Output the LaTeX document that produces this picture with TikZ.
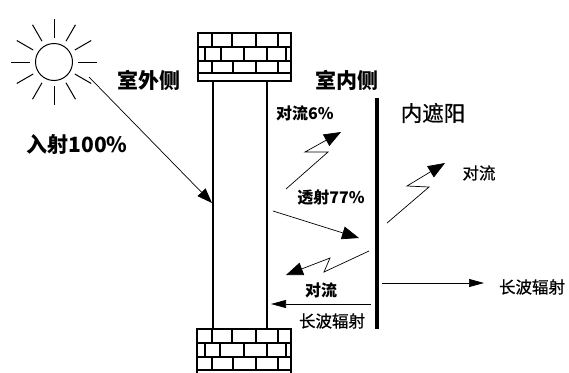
\documentclass[tikz,border=0pt]{standalone}
\usepackage{fontspec}
\newfontfamily\cjk{Noto Sans CJK SC}
\newfontfamily\cjkmed[FakeBold=0.8]{Noto Sans CJK SC}
\usetikzlibrary{arrows.meta,calc}
\begin{document}
\begin{tikzpicture}[x=1pt,y=-1pt,
  big/.style={font=\cjk\bfseries\fontsize{21}{21}\selectfont, inner sep=0pt},
  bigthin/.style={font=\cjkmed\fontsize{21.5}{21.5}\selectfont, inner sep=0pt},
  small/.style={font=\cjk\bfseries\fontsize{16}{16}\selectfont, inner sep=0pt},
  smallthin/.style={font=\cjkmed\fontsize{16.5}{16.5}\selectfont, inner sep=0pt},
  brick/.style={line width=1.2pt},
  wall/.style={line width=1.3pt},
  heat/.style={line width=0.7pt, -{Triangle[length=17pt,width=13pt]}},
  ray/.style={line width=0.7pt, -{Triangle[length=15pt,width=8pt]}},
  sunray/.style={line width=1pt}]
\useasboundingbox (0,0) rectangle (569,372);
\clip (0,0) rectangle (569,372);

% sun
\node[draw, circle, line width=1pt, minimum size=37pt, inner sep=0pt] (sun) at (54,62) {};
\foreach \a in {0,30,...,330}
  \draw[sunray] ($(sun.center)+(\a:24)$) -- ($(sun.center)+(\a:43)$);

% upper brick block
\draw[brick] (198,33) rectangle (291,81);
\foreach \y in {47,61,73} \draw[brick] (198,\y) -- (291,\y);
\foreach \x in {212,232,256,278} \draw[brick] (\x,33) -- (\x,47);
\foreach \x in {205,221,244,267,286} \draw[brick] (\x,47) -- (\x,61);
\foreach \x in {212,233,256,278} \draw[brick] (\x,61) -- (\x,73);

% lower brick block
\draw[brick] (197,329) rectangle (291,385);
\foreach \y in {343,357,370} \draw[brick] (197,\y) -- (291,\y);
\foreach \x in {212,232,256,278} \draw[brick] (\x,329) -- (\x,343);
\foreach \x in {205,220,244,267,286} \draw[brick] (\x,343) -- (\x,357);
\foreach \x in {212,233,256,278} \draw[brick] (\x,357) -- (\x,370);

% wall faces
\coordinate (wo1) at (213,81);  \coordinate (wo2) at (213,329);
\coordinate (wi1) at (267,81);  \coordinate (wi2) at (267,329);
\draw[wall] (wo1) -- (wo2);
\draw[wall] (wi1) -- (wi2);

% interior shade
\coordinate (sh1) at (377,98); \coordinate (sh2) at (377,329);
\draw[line width=4pt] (sh1) -- (sh2);

% labels
\node[big] (out) at (149,80) {室外侧};
\node[big] (in) at (347,80) {室内侧};
\node[big] (inc) at (77,145) {入射100\%};
\node[bigthin] (shade) at (433,113) {内遮阳};
\node[small] (conv6) at (305,113) {对流6\%};
\node[small] (trans) at (331,198) {透射77\%};
\node[smallthin] (convR) at (479,173) {对流};
\node[smallthin] (lwR) at (532,287) {长波辐射};
\node[small] (convL) at (321,290) {对流};
\node[smallthin] (lwL) at (332,321) {长波辐射};

% incident solar radiation
\coordinate (i0) at (89,77); \coordinate (i1) at (212,203);
\draw[line width=0.7pt, -{Triangle[length=15pt,width=11pt]}] (i0) -- (i1);

% convection 6% off the wall
\coordinate (a0) at (286,189); \coordinate (a1) at (328,152);
\coordinate (a2) at (305,152); \coordinate (a3) at (341,132);
\draw[heat] (a0) -- (a1) -- (a2) -- (a3);

% transmitted 77%
\coordinate (t0) at (273,211); \coordinate (t1) at (359,238);
\draw[heat] (t0) -- (t1);

% convection off the room side of the shade
\coordinate (b0) at (387,223); \coordinate (b1) at (429,187);
\coordinate (b2) at (407,186); \coordinate (b3) at (445,163);
\draw[heat] (b0) -- (b1) -- (b2) -- (b3);

% convection back toward the wall
\coordinate (c0) at (369,251); \coordinate (c1) at (324,272);
\coordinate (c2) at (330,258); \coordinate (c3) at (286,275);
\draw[heat] (c0) -- (c1) -- (c2) -- (c3);

% long-wave radiation
\coordinate (l0) at (371,304); \coordinate (l1) at (271,304);
\draw[ray] (l0) -- (l1);
\coordinate (r0) at (382,283); \coordinate (r1) at (484,283);
\draw[ray] (r0) -- (r1);
\end{tikzpicture}
\end{document}
